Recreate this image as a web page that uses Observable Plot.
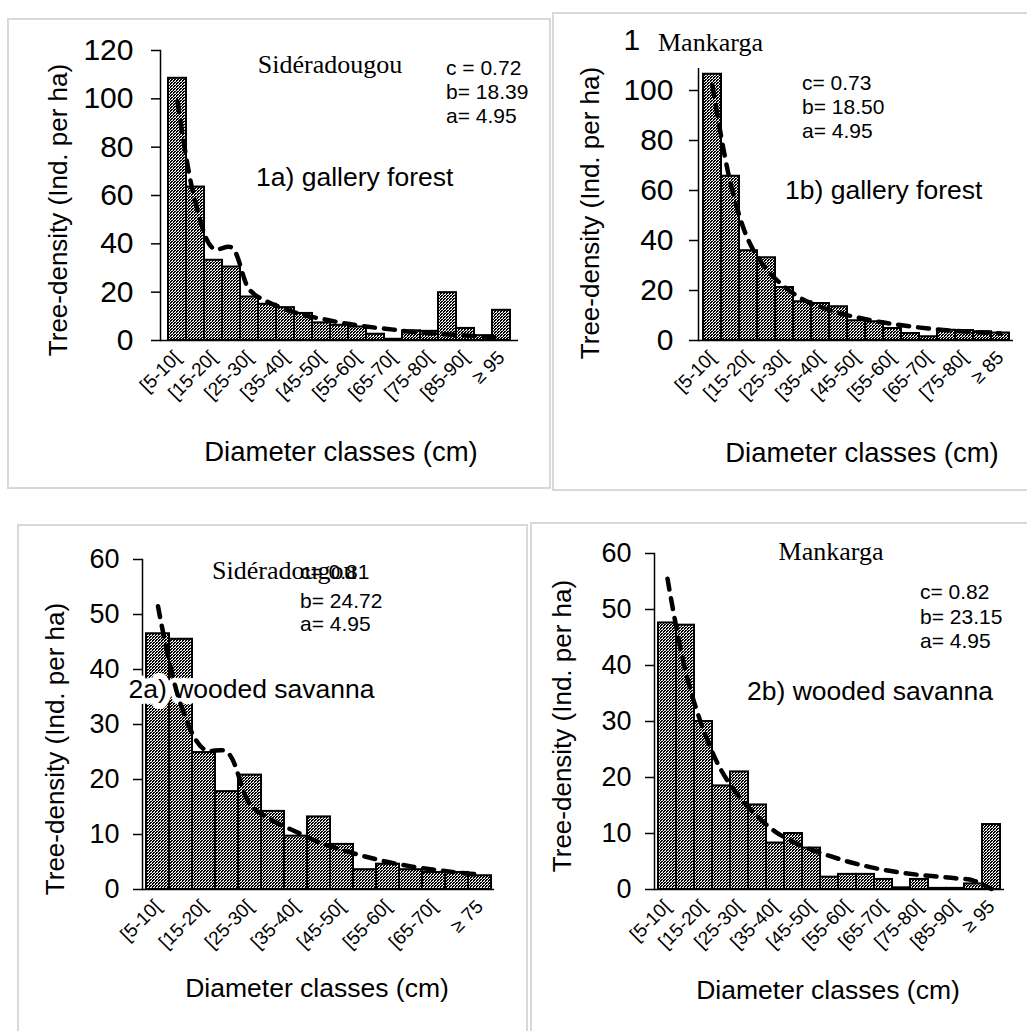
<!DOCTYPE html>
<html><head><meta charset="utf-8">
<script src="https://cdn.jsdelivr.net/npm/d3@7"></script>
<script src="https://cdn.jsdelivr.net/npm/@observablehq/plot@0.6"></script>
<style>
body{margin:0;background:#fff}
#root{position:relative;width:1027px;height:1031px;overflow:hidden;background:#fff;font-family:"Liberation Sans",Arial,sans-serif;color:#000}
.frame{position:absolute;border:2px solid #d9d9d9;box-sizing:border-box}
.p{position:absolute}
.p svg{display:block;max-width:none}
.t{position:absolute;white-space:nowrap;line-height:1}
.serif{font-family:"Liberation Serif","Times New Roman",serif}
</style></head><body><div id="root"></div><script>
// ---------- data ----------
const classes1a = ["[5-10[","[10-15[","[15-20[","[20-25[","[25-30[","[30-35[","[35-40[","[40-45[","[45-50[","[50-55[","[55-60[","[60-65[","[65-70[","[70-75[","[75-80[","[80-85[","[85-90[","[90-95[","≥ 95"];
const density1a = [108.5, 63.5, 33.2, 30.4, 18, 15, 13.6, 11.2, 7.3, 6.3, 5.6, 2.6, 0.5, 4, 3.8, 19.8, 5, 2, 12.5];
const fitted1a  = [99, 57, 38, 38.5, 21, 16, 13, 10.5, 9, 7.5, 6.3, 5.3, 4.5, 3.6, 3, 2.5, 2.1, 1.6, 1.2];
const ticks1a   = ["[5-10[","[15-20[","[25-30[","[35-40[","[45-50[","[55-60[","[65-70[","[75-80[","[85-90[","≥ 95"];

const classes1b = ["[5-10[","[10-15[","[15-20[","[20-25[","[25-30[","[30-35[","[35-40[","[40-45[","[45-50[","[50-55[","[55-60[","[60-65[","[65-70[","[70-75[","[75-80[","[80-85[","≥ 85"];
const density1b = [106.5, 65.7, 35.9, 33.1, 21.2, 15.5, 14.8, 13.5, 7.9, 7.5, 4.8, 2.8, 1.5, 4.1, 4, 3.5, 3];
const fitted1b  = [102, 63, 40, 28.5, 21.5, 16.5, 13.5, 11, 9.3, 7.8, 6.6, 5.6, 4.8, 4.1, 3.6, 3.2, 2.8];
const ticks1b   = ["[5-10[","[15-20[","[25-30[","[35-40[","[45-50[","[55-60[","[65-70[","[75-80[","≥ 85"];

const classes2a = ["[5-10[","[10-15[","[15-20[","[20-25[","[25-30[","[30-35[","[35-40[","[40-45[","[45-50[","[50-55[","[55-60[","[60-65[","[65-70[","[70-75[","≥ 75"];
const density2a = [46.5, 45.5, 24.9, 17.8, 20.8, 14.2, 9.7, 13.2, 8.2, 3.6, 4.6, 3.6, 3.1, 3.1, 2.5];
const fitted2a  = [51.5, 33.5, 25.5, 25, 15.5, 12.5, 10.5, 8.6, 7.2, 6, 5, 4.2, 3.6, 3.1, 2.7];
const ticks2a   = ["[5-10[","[15-20[","[25-30[","[35-40[","[45-50[","[55-60[","[65-70[","≥ 75"];

const classes2b = ["[5-10[","[10-15[","[15-20[","[20-25[","[25-30[","[30-35[","[35-40[","[40-45[","[45-50[","[50-55[","[55-60[","[60-65[","[65-70[","[70-75[","[75-80[","[80-85[","[85-90[","[90-95[","≥ 95"];
const density2b = [47.6, 47.2, 30, 18.5, 21, 15.1, 8.3, 10, 7.4, 2.2, 2.7, 2.7, 1.8, 0.3, 1.8, 0.2, 0.2, 1.0, 11.6];
const fitted2b  = [55.5, 39, 28.5, 21.2, 16.5, 13, 10.3, 8.5, 7.1, 6, 5, 4.2, 3.5, 3, 2.6, 2.3, 2, 1.6, 0.1];
const ticks2b   = ["[5-10[","[15-20[","[25-30[","[35-40[","[45-50[","[55-60[","[65-70[","[75-80[","[85-90[","≥ 95"];

const yTicksForest  = [0, 20, 40, 60, 80, 100, 120];
const yTicksSavanna = [0, 10, 20, 30, 40, 50, 60];

const xTitle = "Diameter classes (cm)";
const yTitle = "Tree-density (Ind. per ha)";

// ---------- helpers ----------
const root = document.getElementById("root");

function frame(l, t, w, h) {
  const d = document.createElement("div");
  d.className = "frame";
  Object.assign(d.style, {left: l + "px", top: t + "px", width: w + "px", height: h + "px"});
  root.appendChild(d);
}

function label(str, x, y, size, opt = {}) {
  const d = document.createElement("div");
  d.className = "t" + (opt.serif ? " serif" : "");
  d.textContent = str;
  d.style.left = x + "px";
  d.style.top = y + "px";
  d.style.fontSize = size + "px";
  const tx = opt.anchor === "middle" ? "-50%" : "0";
  d.style.transform = `translate(${tx},-50%)` + (opt.rotate ? ` rotate(${opt.rotate}deg)` : "");
  root.appendChild(d);
  return d;
}

function panel(cfg) {
  const data = cfg.cats.map((c, i) => ({cls: c, density: cfg.vals[i], fit: cfg.fit[i]}));
  const pid = cfg.id + "-chk";
  const svg = Plot.plot({
    width: cfg.w, height: cfg.h,
    marginLeft: cfg.ml, marginRight: cfg.mr, marginTop: cfg.mt, marginBottom: cfg.mb,
    style: {background: "transparent", overflow: "visible", fontFamily: "'Liberation Sans', Arial, sans-serif", color: "black"},
    x: {domain: cfg.cats, padding: 0, axis: null},
    y: {domain: [0, cfg.ymax], axis: null},
    marks: [
      Plot.axisY({ticks: cfg.yticks, tickSize: 9, tickPadding: cfg.tpad, fontSize: cfg.yfont, label: null, stroke: "black", strokeWidth: 1.5}),
      Plot.frame({anchor: "left", stroke: "black", strokeWidth: 1.5}),
      Plot.barY(data, {x: "cls", y: "density", fill: `url(#${pid})`, stroke: "black", strokeWidth: 2, inset: 0}),
      Plot.ruleY([0], {stroke: "black", strokeWidth: 1.5}),
      Plot.axisX({ticks: cfg.xticks, tickSize: 0, tickRotate: -45, tickPadding: 14, fontSize: 19, label: null}),
      ...(cfg.extra || []),
      Plot.line(data, {x: "cls", y: "fit", curve: "catmull-rom", stroke: "black", strokeWidth: 4.5, strokeDasharray: "11,9", strokeLinecap: "round"})
    ]
  });
  // checkered fill pattern (3x3 tile, mostly black with white dots)
  const defs = d3.select(svg).insert("defs", ":first-child");
  const pat = defs.append("pattern").attr("id", pid).attr("patternUnits", "userSpaceOnUse").attr("width", 3).attr("height", 3);
  pat.append("rect").attr("width", 3).attr("height", 3).attr("fill", "black");
  pat.append("rect").attr("x", 0).attr("y", 0).attr("width", 1).attr("height", 1).attr("fill", "white");
  pat.append("rect").attr("x", 2).attr("y", 1).attr("width", 1).attr("height", 1).attr("fill", "white");
  pat.append("rect").attr("x", 1).attr("y", 2).attr("width", 1).attr("height", 1).attr("fill", "white");
  pat.append("rect").attr("x", 1).attr("y", 0).attr("width", 1).attr("height", 1).attr("fill", "#bbb");
  const holder = document.createElement("div");
  holder.className = "p";
  holder.style.left = cfg.left + "px";
  holder.style.top = cfg.top + "px";
  holder.appendChild(svg);
  root.appendChild(holder);
}

// ---------- frames ----------
frame(7, 18, 544, 471);
frame(552, 12, 490, 479);
frame(17, 524, 511, 520);
frame(530, 522, 510, 520);

// ---------- panels ----------
panel({id: "p1a", cats: classes1a, vals: density1a, fit: fitted1a, xticks: ticks1a, ymax: 120, yticks: yTicksForest,
  left: 0, top: 0, w: 545, h: 480, ml: 160, mr: 27, mt: 50, mb: 140, yfont: 30, tpad: 18});
panel({id: "p1b", cats: classes1b, vals: density1b, fit: fitted1b, xticks: ticks1b, ymax: 120, yticks: yTicksForest,
  left: 540, top: 0, w: 487, h: 480, ml: 158, mr: 14, mt: 40, mb: 140, yfont: 30, tpad: 16});
panel({id: "p2a", cats: classes2a, vals: density2a, fit: fitted2a, xticks: ticks2a, ymax: 60, yticks: yTicksSavanna,
  left: 0, top: 500, w: 520, h: 531, ml: 142, mr: 26, mt: 59, mb: 142, yfont: 27, tpad: 14,
  extra: [Plot.text(["2a) wooded savanna"], {text: d => d, frameAnchor: "top-left", dx: -14, dy: 130, textAnchor: "start", lineAnchor: "middle",
    fontSize: 26.5, fill: "black", stroke: "white", strokeWidth: 12, paintOrder: "stroke", strokeLinejoin: "round"})]});
panel({id: "p2b", cats: classes2b, vals: density2b, fit: fitted2b, xticks: ticks2b, ymax: 60, yticks: yTicksSavanna,
  left: 520, top: 500, w: 507, h: 531, ml: 134, mr: 23, mt: 53, mb: 142, yfont: 27, tpad: 14});

// ---------- annotations ----------
// 1a
label("Sidéradougou", 330, 65, 26, {anchor: "middle", serif: true});
label("c = 0.72", 446, 67, 21);
label("b= 18.39", 446, 91, 21);
label("a= 4.95", 446, 115, 21);
label("1a) gallery forest", 256, 177, 26.5);
label(yTitle, 58, 210, 26, {anchor: "middle", rotate: -90});
label(xTitle, 341, 452, 27.5, {anchor: "middle"});
// 1b : white text box of the site name partly hides the top tick label
const box = document.createElement("div");
Object.assign(box.style, {position: "absolute", left: "640px", top: "20px", width: "140px", height: "48px", background: "white"});
root.appendChild(box);
label("Mankarga", 658, 43, 26, {serif: true});
label("c= 0.73", 802, 82, 21);
label("b= 18.50", 802, 106, 21);
label("a= 4.95", 802, 130, 21);
label("1b) gallery forest", 785, 190, 26.5);
label(yTitle, 590, 213, 26, {anchor: "middle", rotate: -90});
label(xTitle, 862, 453, 27.5, {anchor: "middle"});
// 2a
label("Sidéradougou", 212, 571, 26, {serif: true});
label("c= 0.81", 300, 571, 21);
label("b= 24.72", 300, 600, 21);
label("a= 4.95", 300, 623, 21);
label(yTitle, 55, 749, 26, {anchor: "middle", rotate: -90});
label(xTitle, 317, 988, 26.5, {anchor: "middle"});
// 2b
label("Mankarga", 831, 552, 26, {anchor: "middle", serif: true});
label("c= 0.82", 920, 591, 21);
label("b= 23.15", 920, 616, 21);
label("a= 4.95", 920, 640, 21);
label("2b) wooded savanna", 747, 691, 26.5);
label(yTitle, 562, 726, 26, {anchor: "middle", rotate: -90});
label(xTitle, 828, 990, 26.5, {anchor: "middle"});
</script></body></html>
